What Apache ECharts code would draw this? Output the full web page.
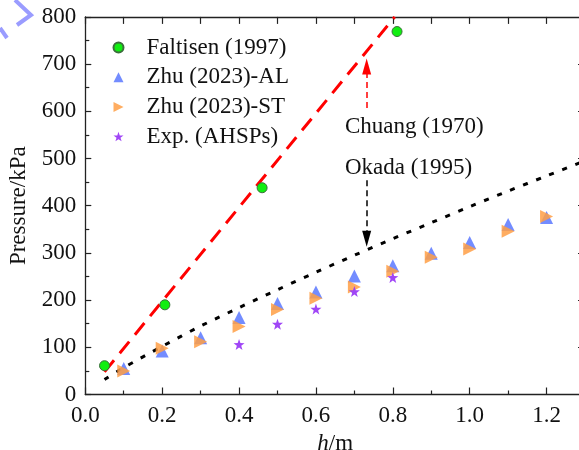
<!DOCTYPE html>
<html><head><meta charset="utf-8">
<script src="https://cdn.jsdelivr.net/npm/echarts@6/dist/echarts.min.js"></script>
<style>html,body{margin:0;padding:0;background:#fff}#c{width:579px;height:450px}</style>
</head><body><div id="c"></div>
<script>
// ---- data ----
const faltisenH = [0.05, 0.207, 0.46, 0.811];
const faltisenP = [61, 190, 438, 769];
const zhuH = [0.1, 0.2, 0.3, 0.4, 0.5, 0.6, 0.7, 0.8, 0.9, 1.0, 1.1, 1.2];
const zhuAL = [55, 92, 120, 163, 193, 217, 251, 273, 299, 322, 360, 375];
const zhuST = [50, 98, 112, 144, 180, 204, 228, 261, 291, 308, 346, 377];
const expH = [0.4, 0.5, 0.6, 0.7, 0.8];
const expP = [106, 149, 181, 218, 248];
const chuangH = [0.05, 0.805];
const chuangP = [48, 800];
const okadaH = [0.05, 0.1, 0.2, 0.3, 0.4, 0.5, 0.6, 0.7, 0.8, 0.9, 1.0, 1.1, 1.2, 1.3];
const okadaP = [32, 57, 102, 145, 184, 222, 259, 295, 330, 364, 398, 431, 463, 495];
const arrowH = 0.732;
const chuangArrowP = [607, 695];
const okadaArrowP = [454, 330];
const annotH = [0.6755, 0.6755];
const annotP = [567, 479];
const annotText = ['Chuang (1970)', 'Okada (1995)'];
const seriesNames = ['Faltisen (1997)', 'Zhu (2023)-AL', 'Zhu (2023)-ST', 'Exp. (AHSPs)'];
const xTickLabels = ['0.0', '0.2', '0.4', '0.6', '0.8', '1.0', '1.2'];
const yTickLabels = ['0', '100', '200', '300', '400', '500', '600', '700', '800'];

const FONT = 'Liberation Serif';
const zip = (a, b) => a.map((v, i) => [v, b[i]]);
const STAR = 'path://M5,0L6.18,3.38L9.76,3.45L6.9,5.62L7.94,9.05L5,7L2.06,9.05L3.1,5.62L0.24,3.45L3.82,3.38Z';
const RTRI = 'path://M0,0L10,5L0,10Z';

const axisCommon = {
  axisLine: { show: true, onZero: false, lineStyle: { color: '#222', width: 1.3 } },
  splitLine: { show: false },
};
const chart = echarts.init(document.getElementById('c'), null, { renderer: 'canvas' });
chart.setOption({
  animation: false,
  backgroundColor: '#fff',
  textStyle: { fontFamily: FONT },
  grid: { left: 85.3, right: -6, top: 16.9, bottom: 55.5, containLabel: false, outerBoundsMode: 'none' },
  legend: {
    data: seriesNames,
    orient: 'vertical',
    left: 107.5, top: 31,
    itemWidth: 10, itemHeight: 10, itemGap: 6.7,
    textStyle: { fontFamily: FONT, fontSize: 23, color: '#111', lineHeight: 23, padding: [0, 0, 0, 18] },
  },
  xAxis: [{
    type: 'value', min: 0, max: 1.3, interval: 0.2, position: 'bottom',
    name: '{i|h}/m', nameLocation: 'middle', nameGap: 35,
    nameTextStyle: { fontFamily: FONT, fontSize: 23, color: '#111',
      rich: { i: { fontStyle: 'italic', fontFamily: FONT, fontSize: 23, color: '#111' } } },
    ...axisCommon,
    axisTick: { show: true, inside: true, length: 7, lineStyle: { color: '#222', width: 1.2 } },
    minorTick: { show: true, splitNumber: 2, length: 4, lineStyle: { color: '#222', width: 1.2 } },
    axisLabel: { fontFamily: FONT, fontSize: 23, color: '#111', margin: 10, showMaxLabel: false,
      formatter: v => { const i = Math.round(v / 0.2); return Math.abs(v - i * 0.2) < 1e-6 ? (xTickLabels[i] || '') : ''; } },
  }, {
    type: 'value', min: 0, max: 1.3, interval: 0.2, position: 'top',
    ...axisCommon,
    axisTick: { show: true, inside: true, length: 7, lineStyle: { color: '#222', width: 1.2 } },
    minorTick: { show: true, splitNumber: 2, length: 7, lineStyle: { color: '#222', width: 1.2 } },
    axisLabel: { show: false },
  }],
  yAxis: [{
    type: 'value', min: 0, max: 800, interval: 100, position: 'left',
    name: 'Pressure/kPa', nameLocation: 'middle', nameGap: 54, nameRotate: 90,
    nameTextStyle: { fontFamily: FONT, fontSize: 23, color: '#111' },
    ...axisCommon,
    axisTick: { show: true, inside: true, length: 6, lineStyle: { color: '#222', width: 1.2 } },
    minorTick: { show: true, splitNumber: 2, length: 4, lineStyle: { color: '#222', width: 1.2 } },
    axisLabel: { fontFamily: FONT, fontSize: 23, color: '#111', margin: 9,
      formatter: v => yTickLabels[Math.round(v / 100)] || '' },
  }, {
    type: 'value', min: 0, max: 800, interval: 100, position: 'right',
    ...axisCommon,
    axisTick: { show: true, inside: true, length: 7, lineStyle: { color: '#222', width: 1.2 } },
    minorTick: { show: true, splitNumber: 2, length: 4, lineStyle: { color: '#222', width: 1.2 } },
    axisLabel: { show: false },
  }],
  series: [
    {
      name: 'Chuang', type: 'line', data: zip(chuangH, chuangP), symbol: 'none', z: 2,
      lineStyle: { color: '#ff0000', width: 3, type: [15, 9] },
      markLine: {
        silent: true, animation: false, symbolSize: [9, 16], label: { show: false },
        lineStyle: { color: '#ff0000', width: 1.5, type: [6, 4] },
        data: [[{ coord: [arrowH, chuangArrowP[0]], symbol: 'none' }, { coord: [arrowH, chuangArrowP[1]], symbol: 'triangle' }]],
      },
    },
    {
      name: 'Okada', type: 'line', data: zip(okadaH, okadaP), symbol: 'none', smooth: 0.3, z: 2,
      lineStyle: { color: '#000', width: 3, type: [5, 9] },
      markLine: {
        silent: true, animation: false, symbolSize: [9, 16], label: { show: false },
        lineStyle: { color: '#000', width: 1.5, type: [6, 4] },
        data: [[{ coord: [arrowH, okadaArrowP[0]], symbol: 'none' }, { coord: [arrowH, okadaArrowP[1]], symbol: 'triangle' }]],
      },
    },
    {
      name: seriesNames[0], type: 'scatter', data: zip(faltisenH, faltisenP), symbol: 'circle', symbolSize: 10, z: 5,
      itemStyle: { color: '#11ee11', borderColor: '#3b6e3b', borderWidth: 1, opacity: 1 },
    },
    {
      name: seriesNames[1], type: 'scatter', data: zip(zhuH, zhuAL), symbol: 'triangle', symbolSize: 13, z: 3,
      itemStyle: { color: '#5a78ff', opacity: 0.85 },
    },
    {
      name: seriesNames[2], type: 'scatter', data: zip(zhuH, zhuST), symbol: RTRI, symbolSize: 13, z: 4,
      itemStyle: { color: '#ff9f45', opacity: 0.85 },
    },
    {
      name: seriesNames[3], type: 'scatter', data: zip(expH, expP), symbol: STAR, symbolSize: 11, z: 4,
      itemStyle: { color: '#9b3cf5', opacity: 0.95 },
    },
  ],
});
// annotation texts placed at data coordinates through the axes
const annotGraphics = annotText.map((t, i) => {
  const p = chart.convertToPixel({ xAxisIndex: 0, yAxisIndex: 0 }, [annotH[i], annotP[i]]);
  return { type: 'text', x: p[0], y: p[1], silent: true, z: 100,
    style: { text: t, fontFamily: FONT, fontSize: 23, fill: '#111', align: 'left', verticalAlign: 'middle' } };
});
chart.setOption({ graphic: [
  { type: 'polyline', shape: { points: [[15, 0], [31, 15], [17, 25]] }, style: { stroke: '#9a9cff', lineWidth: 4, fill: null }, silent: true },
  { type: 'polyline', shape: { points: [[0, 28], [7, 38]] }, style: { stroke: '#9a9cff', lineWidth: 4, fill: null }, silent: true },
  ...annotGraphics,
] });
</script>
</body></html>
